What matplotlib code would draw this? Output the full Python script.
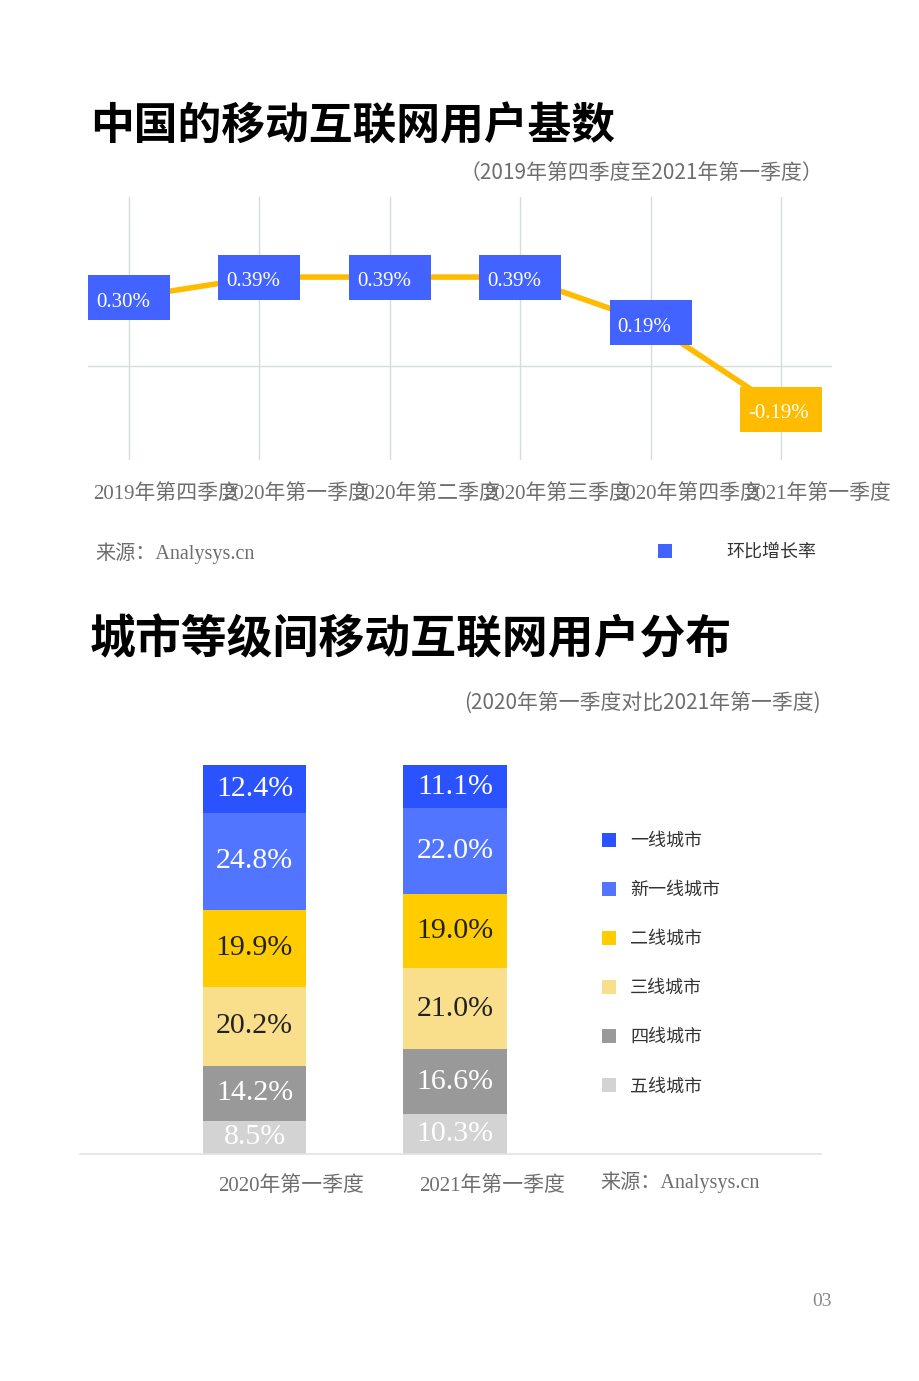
import matplotlib
matplotlib.use("Agg")
import matplotlib.pyplot as plt
import matplotlib.transforms as mtransforms
from matplotlib.path import Path
from matplotlib.markers import MarkerStyle
from matplotlib.lines import Line2D

# ---------------- data ----------------
quarters = ["2019年第四季度", "2020年第一季度", "2020年第二季度",
            "2020年第三季度", "2020年第四季度", "2021年第一季度"]
growth = [0.30, 0.39, 0.39, 0.39, 0.19, -0.19]
growth_labels = ["0.30%", "0.39%", "0.39%", "0.39%", "0.19%", "-0.19%"]

periods = ["2020年第一季度", "2021年第一季度"]
tiers = ["一线城市", "新一线城市", "二线城市", "三线城市", "四线城市", "五线城市"]
share_2020 = [12.4, 24.8, 19.9, 20.2, 14.2, 8.5]
share_2021 = [11.1, 22.0, 19.0, 21.0, 16.6, 10.3]

# ---------------- style ----------------
W, H = 920, 1381
SANS = ["Noto Sans CJK SC", "DejaVu Sans"]
SERIF = ["Liberation Serif", "Noto Sans CJK SC", "DejaVu Sans"]
plt.rcParams["font.family"] = SANS

BLUE_BOX = "#4263FF"
YELLOW = "#FFBB00"
GRID = "#D5DCDC"
GRAY_TXT = "#6E6E6E"
tier_colors = ["#2B52FF", "#5275FF", "#FFCC00", "#F9DE8C", "#999999", "#D3D3D3"]
tier_text = ["white", "white", "#222222", "#222222", "white", "white"]

fig = plt.figure(figsize=(W / 100, H / 100), dpi=100)


def fx(px):
    return px / W


def fy(py):
    return 1 - py / H


# ---------------- titles ----------------
fig.text(fx(90), fy(127), "中国的移动互联网用户基数", fontsize=31.5,
         fontweight="heavy", color="black", va="center", ha="left", family=SANS)
fig.text(fx(823), fy(173), "（2019年第四季度至2021年第一季度）", fontsize=15,
         color=GRAY_TXT, va="center", ha="right", family=SANS, fontweight="light")

# ---------------- top chart ----------------
ax1 = fig.add_axes([fx(88), fy(460), fx(832 - 88), (460 - 197) / H])
x = list(range(len(growth)))
ax1.set_xlim(-0.314, 5.39)
ax1.set_ylim(-0.412, 0.741)
for s in ax1.spines.values():
    s.set_visible(False)
ax1.set_yticks([])
ax1.set_xticks(x)
ax1.set_xticklabels(quarters, family=SERIF, fontsize=15, color=GRAY_TXT)
ax1.tick_params(axis="x", length=0, pad=17)
shift1 = mtransforms.ScaledTranslation(37 / 100, 0, fig.dpi_scale_trans)
for lab in ax1.get_xticklabels():
    lab.set_transform(lab.get_transform() + shift1)
ax1.grid(axis="x", color=GRID, lw=1)
ax1.set_axisbelow(True)
ax1.axhline(0, color=GRID, lw=1, zorder=0)

ax1.plot(x, growth, color=YELLOW, lw=4, zorder=2, solid_capstyle="butt")
rect = Path([(-41, -22.5), (41, -22.5), (41, 22.5), (-41, 22.5), (-41, -22.5)],
            [Path.MOVETO, Path.LINETO, Path.LINETO, Path.LINETO, Path.CLOSEPOLY])
box_colors = [BLUE_BOX if v >= 0 else YELLOW for v in growth]
ax1.scatter(x, growth, marker=MarkerStyle(rect), s=(82 * 0.72) ** 2,
            c=box_colors, linewidths=0, zorder=3)
for xi, v, lab in zip(x, growth, growth_labels):
    ax1.annotate(lab, (xi, v), xytext=(-33 * 0.72, -4.5 * 0.72),
                 textcoords="offset points", ha="left", va="center",
                 color="white", fontsize=15, family=SERIF, zorder=4)

ax1.legend(handles=[Line2D([], [], marker="s", ls="", color=BLUE_BOX,
                           markersize=10, markeredgewidth=0)],
           labels=["环比增长率"], loc="center left",
           bbox_to_anchor=(fx(656), fy(552)), bbox_transform=fig.transFigure,
           frameon=False, borderpad=0, borderaxespad=0, handlelength=1.0,
           handletextpad=2.9, prop={"family": SANS, "size": 13},
           labelcolor="#333333")

fig.text(fx(95), fy(553), "来源：Analysys.cn", fontsize=14.5, color=GRAY_TXT,
         va="center", ha="left", family=SERIF)

# ---------------- second title ----------------
fig.text(fx(90), fy(640), "城市等级间移动互联网用户分布", fontsize=33,
         fontweight="heavy", color="black", va="center", ha="left", family=SANS)
fig.text(fx(821), fy(704), "(2020年第一季度对比2021年第一季度)", fontsize=15,
         color=GRAY_TXT, va="center", ha="right", family=SANS, fontweight="light")

# ---------------- stacked bar chart ----------------
ax2 = fig.add_axes([fx(80), fy(1154), fx(741), (1154 - 765) / H])
ax2.set_xlim(-0.870, 2.825)
ax2.set_ylim(0, 100)
for name, s in ax2.spines.items():
    s.set_visible(name == "bottom")
ax2.spines["bottom"].set_color("#DDE3E3")
ax2.spines["bottom"].set_linewidth(1.2)
ax2.set_yticks([])

bx = [0, 1]
data = [share_2020, share_2021]
bottoms = [0.0, 0.0]
handles = [None] * len(tiers)
for k in range(len(tiers) - 1, -1, -1):
    vals = [d[k] for d in data]
    bars = ax2.bar(bx, vals, bottom=bottoms, width=0.514,
                   color=tier_colors[k], label=tiers[k], zorder=2)
    handles[k] = bars
    for xi, b, v in zip(bx, bottoms, vals):
        ax2.text(xi, b + v / 2, f"{v:.1f}%", ha="center", va="center",
                 fontsize=21.5, color=tier_text[k], family=SERIF, zorder=3)
    bottoms = [b + v for b, v in zip(bottoms, vals)]

ax2.set_xticks(bx)
ax2.set_xticklabels(periods, family=SERIF, fontsize=15, color=GRAY_TXT)
ax2.tick_params(axis="x", length=0, pad=16)
shift = mtransforms.ScaledTranslation(37 / 100, 0, fig.dpi_scale_trans)
for lab in ax2.get_xticklabels():
    lab.set_transform(lab.get_transform() + shift)

ax2.legend(handles=handles, labels=tiers, loc="upper left",
           bbox_to_anchor=(fx(602), fy(832)), bbox_transform=fig.transFigure,
           frameon=False, borderpad=0, borderaxespad=0, handlelength=0.8,
           handleheight=0.8, handletextpad=0.75, labelspacing=1.72,
           prop={"family": SANS, "size": 13}, labelcolor="#333333")

fig.text(fx(600), fy(1182), "来源：Analysys.cn", fontsize=14.5, color=GRAY_TXT,
         va="center", ha="left", family=SERIF)

fig.text(fx(822), fy(1301), "03", fontsize=14, color="#888888",
         va="center", ha="center", family=SERIF)

fig.savefig("out.png", dpi=100, facecolor="white")
